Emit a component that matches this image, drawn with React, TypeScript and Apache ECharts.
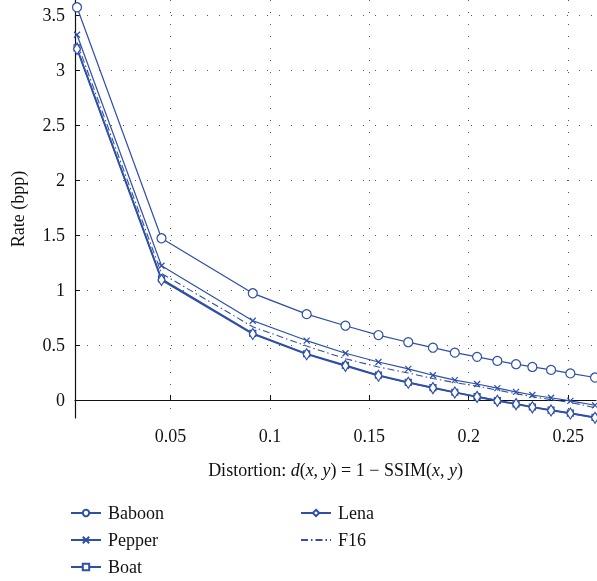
import React, { useEffect, useRef } from "react";
import * as echarts from "echarts";

const distortion = [0.003, 0.0455, 0.0914, 0.1185, 0.138, 0.1546, 0.1696, 0.182, 0.193, 0.2042, 0.2144, 0.2238, 0.232, 0.2414, 0.2511, 0.2635];
const baboon = [3.57, 1.47, 0.97, 0.78, 0.675, 0.59, 0.525, 0.475, 0.43, 0.392, 0.355, 0.325, 0.3, 0.273, 0.241, 0.204];
const pepper = [3.32, 1.22, 0.72, 0.54, 0.425, 0.345, 0.282, 0.225, 0.18, 0.145, 0.107, 0.073, 0.045, 0.02, -0.008, -0.048];
const boat = [3.2, 1.1, 0.605, 0.42, 0.315, 0.225, 0.16, 0.112, 0.07, 0.03, -0.005, -0.035, -0.064, -0.092, -0.12, -0.158];
const lena = [3.19, 1.09, 0.6, 0.415, 0.31, 0.22, 0.157, 0.108, 0.068, 0.028, -0.008, -0.038, -0.067, -0.095, -0.123, -0.162];
const f16 = [3.25, 1.15, 0.665, 0.49, 0.375, 0.3, 0.245, 0.195, 0.158, 0.125, 0.09, 0.057, 0.03, 0.003, -0.022, -0.07];

const xTicks = [0.05, 0.1, 0.15, 0.2, 0.25];
const yTicks = [0, 0.5, 1, 1.5, 2, 2.5, 3, 3.5];

const BLUE = "#2f4fa8";
const FONT = "Liberation Serif";
const FS = 18;

const pairs = (ys: number[]) => ys.map((y, i) => [distortion[i], y]);

export default function App() {
  const ref = useRef<HTMLDivElement>(null);
  useEffect(() => {
    if (!ref.current) return;
    const chart = echarts.init(ref.current, null, { renderer: "svg" });
    const baseSeries = (name: string, data: number[], extra: any) => ({
      name,
      type: "line",
      data: pairs(data),
      color: BLUE,
      lineStyle: { color: BLUE, width: 1.2 },
      itemStyle: { color: "#fff", borderColor: BLUE, borderWidth: 1.2 },
      showSymbol: true,
      ...extra,
    });
    const legendCommon = {
      orient: "vertical",
      top: 499,
      height: 80,
      itemWidth: 30,
      itemHeight: 8,
      itemGap: 9,
      textStyle: { fontFamily: FONT, fontSize: FS, color: "#111", padding: [0, 0, 0, 2] },
    };
    chart.setOption({
      animation: false,
      grid: { left: 75, right: 1, top: 0, bottom: 163, containLabel: false, outerBoundsMode: "none" },
      xAxis: {
        type: "value",
        min: 0.002,
        max: 0.264,
        name: "Distortion: {i|d}({i|x}, {i|y}) = 1 − SSIM({i|x}, {i|y})",
        nameLocation: "middle",
        nameGap: 43,
        nameTextStyle: {
          fontFamily: FONT,
          fontSize: FS,
          color: "#111",
          rich: { i: { fontFamily: FONT, fontSize: FS, fontStyle: "italic", color: "#111" } },
        },
        axisLine: { show: true, lineStyle: { color: "#111", width: 1.2 } },
        axisTick: { show: true, inside: true, length: 5, customValues: xTicks, lineStyle: { color: "#111" } },
        axisLabel: {
          customValues: xTicks,
          fontFamily: FONT,
          fontSize: FS,
          color: "#111",
          margin: 9,
          formatter: (v: number) => String(parseFloat(v.toFixed(3))),
        },
        splitLine: { show: true, lineStyle: { color: "#555", type: [1, 11], width: 1 } },
      },
      yAxis: {
        type: "value",
        min: -0.164,
        max: 3.636,
        name: "Rate (bpp)",
        nameLocation: "middle",
        nameGap: 48,
        nameRotate: 90,
        nameTextStyle: { fontFamily: FONT, fontSize: FS, color: "#111" },
        axisLine: { show: true, lineStyle: { color: "#111", width: 1.2 } },
        axisTick: { show: true, inside: true, length: 5, customValues: yTicks, lineStyle: { color: "#111" } },
        axisLabel: {
          customValues: yTicks,
          fontFamily: FONT,
          fontSize: FS,
          color: "#111",
          margin: 10,
          formatter: (v: number) => String(parseFloat(v.toFixed(3))),
        },
        splitLine: { show: true, lineStyle: { color: "#555", type: [1, 11], width: 1 } },
      },
      legend: [
        { ...legendCommon, data: ["Baboon", "Pepper", "Boat"], left: 65 },
        { ...legendCommon, data: ["Lena", "F16"], left: 295 },
      ],
      series: [
        baseSeries("Baboon", baboon, { symbol: "circle", symbolSize: 9 }),
        baseSeries("Pepper", pepper, {
          symbol: "path://M0,0L10,10M10,0L0,10",
          symbolSize: 6,
          itemStyle: { color: "none", borderColor: BLUE, borderWidth: 1.2 },
        }),
        baseSeries("Boat", boat, { symbol: "rect", symbolSize: 6, lineStyle: { color: BLUE, width: 1.6 } }),
        baseSeries("Lena", lena, { symbol: "diamond", symbolSize: [7, 11], lineStyle: { color: BLUE, width: 1.6 } }),
        baseSeries("F16", f16, {
          symbol: "circle",
          showSymbol: false,
          itemStyle: { color: "transparent", borderColor: "transparent", borderWidth: 0 },
          lineStyle: { color: BLUE, width: 1.1, type: [7, 3, 1.5, 3] },
        }),
      ],
    });
    return () => chart.dispose();
  }, []);
  return <div ref={ref} style={{ position: "fixed", left: 0, top: 0, width: 597, height: 581 }} />;
}
